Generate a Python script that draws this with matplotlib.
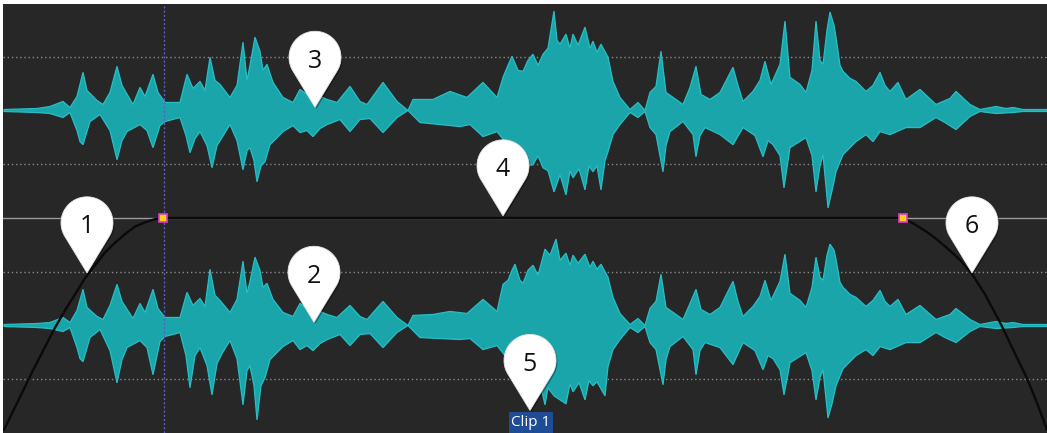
import numpy as np
import matplotlib
matplotlib.use("Agg")
import matplotlib.pyplot as plt
from matplotlib.patches import Polygon

# ---- data ----
# waveform envelopes: (position, level) with full scale = 107
FULL = 107.0

top_upper = [(4,1),(37,2),(50,4),(63,9),(70,3),(77,14),(83,38),(87,20),(97,10),(103,6),(110,18),(117,44),(122,25),(133,6),(140,23),(145,14),(153,36),(158,18),(165,8),(180,8),(187,36),(193,22),(200,29),(205,20),(210,53),(215,30),(220,26),(230,13),(237,25),(243,68),(247,30),(250,45),(255,73),(260,59),(263,40),(267,46),(273,28),(283,13),(293,8),(300,21),(313,12),(320,14),(327,11),(337,8),(350,24),(360,9),(367,6),(383,28),(397,9),(408,0),(413,11),(433,11),(450,19),(467,13),(483,28),(497,13),(503,33),(508,45),(512,54),(518,40),(523,39),(528,50),(533,56),(538,45),(543,56),(548,62),(554,99),(557,70),(560,66),(566,76),(570,62),(573,76),(578,65),(585,83),(590,62),(593,69),(597,58),(601,66),(608,53),(613,29),(620,13),(630,1),(638,8),(645,0),(650,18),(656,24),(661,59),(666,18),(676,11),(683,6),(690,23),(696,44),(701,16),(710,11),(720,18),(733,43),(738,25),(743,9),(753,19),(760,30),(765,49),(771,26),(780,46),(785,89),(790,33),(800,26),(806,18),(812,40),(816,89),(820,50),(823,46),(827,80),(830,98),(834,85),(836,73),(840,45),(843,39),(850,32),(856,29),(866,19),(873,25),(880,38),(885,25),(890,19),(898,28),(906,11),(920,21),(936,6),(950,12),(956,19),(970,6),(980,1),(996,4),(1006,2),(1013,3),(1023,1),(1047,1)]

top_lower = [(4,1),(37,2),(50,3),(63,7),(70,2),(77,20),(80,31),(83,34),(90,11),(100,4),(110,20),(117,49),(122,30),(127,21),(140,14),(147,20),(153,37),(160,15),(165,11),(180,7),(186,25),(190,42),(195,28),(200,21),(207,35),(212,57),(217,35),(222,27),(230,14),(237,30),(243,59),(247,40),(250,37),(254,50),(257,71),(261,55),(265,51),(270,34),(283,21),(293,15),(300,22),(307,20),(313,26),(320,18),(327,14),(340,9),(350,21),(360,9),(370,8),(383,22),(397,7),(408,0),(420,12),(440,14),(460,16),(470,14),(483,26),(497,21),(505,31),(515,37),(523,41),(528,55),(533,54),(538,45),(543,57),(548,60),(554,81),(560,64),(566,84),(570,60),(573,67),(579,58),(585,79),(589,55),(593,61),(597,55),(601,79),(605,50),(608,41),(613,24),(620,14),(630,2),(638,7),(645,1),(650,17),(656,24),(663,61),(666,35),(670,21),(683,11),(693,24),(696,46),(700,25),(705,17),(720,24),(733,34),(743,17),(755,25),(763,46),(768,30),(773,34),(780,45),(784,77),(788,50),(790,37),(806,27),(812,45),(816,81),(820,55),(823,44),(828,97),(832,80),(836,61),(843,44),(856,31),(866,24),(873,31),(880,21),(890,24),(906,17),(920,17),(936,7),(945,12),(956,19),(970,6),(980,1),(996,3),(1013,2),(1023,1),(1047,1)]

bot_upper = [(4,1),(37,2),(50,3),(63,8),(70,3),(77,15),(83,36),(87,18),(97,9),(103,6),(110,20),(117,41),(122,24),(133,7),(140,22),(145,13),(153,36),(158,17),(165,8),(180,8),(187,33),(193,20),(200,27),(205,19),(210,56),(215,30),(220,25),(230,13),(237,26),(243,64),(247,32),(250,44),(255,68),(260,55),(263,38),(267,42),(273,26),(283,13),(293,9),(300,22),(313,13),(320,14),(327,11),(337,8),(350,20),(360,9),(367,6),(383,24),(397,8),(408,0),(413,10),(433,11),(450,14),(467,12),(483,26),(497,14),(503,41),(508,45),(512,55),(515,61),(520,45),(523,42),(528,55),(533,60),(538,50),(545,76),(550,70),(556,86),(560,65),(566,72),(570,60),(573,70),(578,62),(585,71),(590,58),(593,64),(597,56),(601,61),(608,48),(613,28),(620,12),(630,1),(638,7),(645,0),(650,17),(656,24),(661,51),(666,18),(676,11),(683,6),(690,22),(696,36),(701,16),(710,11),(720,18),(733,44),(738,24),(743,9),(753,19),(760,29),(765,45),(771,25),(780,44),(785,71),(790,32),(800,25),(806,18),(812,38),(816,68),(820,48),(823,45),(827,70),(830,81),(834,75),(836,66),(840,43),(843,38),(850,31),(856,28),(866,19),(873,25),(880,35),(885,24),(890,19),(898,26),(906,11),(920,20),(936,6),(950,11),(956,17),(970,6),(980,1),(996,4),(1006,2),(1013,3),(1023,1),(1047,1)]

bot_lower = [(4,1),(37,2),(50,3),(63,6),(70,2),(77,22),(80,33),(83,36),(90,12),(100,4),(110,25),(117,57),(122,34),(127,22),(140,15),(147,22),(153,49),(160,16),(165,11),(180,7),(186,30),(190,62),(195,30),(200,22),(207,40),(212,69),(217,38),(222,28),(230,15),(237,33),(243,79),(247,45),(250,40),(254,60),(257,94),(261,60),(265,52),(270,34),(283,21),(293,15),(300,24),(307,20),(313,25),(320,18),(327,14),(340,9),(350,20),(360,9),(370,8),(383,22),(397,7),(408,0),(420,12),(440,13),(460,14),(470,13),(483,24),(497,20),(505,30),(515,38),(523,42),(528,58),(533,56),(538,48),(545,79),(548,62),(554,70),(560,74),(566,78),(570,58),(573,66),(579,57),(585,74),(589,55),(593,60),(597,56),(605,70),(608,41),(613,24),(620,14),(630,2),(638,7),(645,1),(650,17),(656,24),(663,59),(666,34),(670,21),(683,11),(693,24),(696,49),(700,25),(705,17),(720,22),(733,39),(743,17),(755,25),(763,44),(768,30),(773,33),(780,44),(784,69),(788,48),(790,37),(806,27),(812,45),(816,74),(820,52),(823,44),(828,92),(832,78),(836,60),(843,43),(856,30),(866,24),(873,30),(880,21),(890,24),(906,17),(920,17),(936,7),(945,12),(956,17),(970,6),(980,1),(996,3),(1013,2),(1023,1),(1047,1)]

# volume envelope (fade in / sustain / fade out)
fade_in_x = [4, 15, 25, 35, 45, 55, 65, 75, 85, 95, 105, 115, 125, 135, 145, 155, 163]
fade_in_y = [0.03, 0.24, 0.43, 0.62, 0.80, 0.98, 1.14, 1.29, 1.44, 1.56, 1.68, 1.77, 1.85, 1.92, 1.96, 1.99, 2.0]
fade_out_x = [903, 915, 927, 937, 947, 960, 972, 985, 1000, 1017, 1027, 1037, 1047]
fade_out_y = [2.0, 1.94, 1.87, 1.80, 1.72, 1.61, 1.48, 1.29, 1.03, 0.70, 0.51, 0.28, 0.03]
handle_x = [163, 903]

# callouts: label, tip position
callout_labels = ["1", "2", "3", "4", "5", "6"]
callout_x = [87, 314, 315, 503, 530, 972]
callout_y = [1.49, 1.03, 3.03, 2.02, 0.21, 1.49]

cursor_x = 164
clip_label = "Clip 1"

# ---- figure ----
PX = 107.5  # pixels per track unit
fig = plt.figure(figsize=(10.47, 4.33), dpi=100, facecolor="white")
ax = fig.add_axes([3 / 1047, 0, 1 - 3 / 1047, 429 / 433])
ax.set_facecolor("#272727")
ax.set_xlim(3, 1047)
ax.set_ylim(0, 429 / PX)
for s in ax.spines.values():
    s.set_visible(False)
ax.set_xticks([])
ax.set_yticks([])

# grid
for g in [0.5, 1.5, 2.5, 3.5]:
    ax.axhline(g, color="#8a8a8a", lw=1, linestyle=(0, (1, 2)), zorder=1)
ax.axhline(2.0, color="#9a9a9a", lw=1, zorder=1)


def draw_channel(center, upper, lower):
    up = np.array(upper, dtype=float)
    lo = np.array(lower, dtype=float)
    xs = np.concatenate([up[:, 0], lo[::-1, 0]])
    ys = np.concatenate([center + up[:, 1] / FULL, center - lo[::-1, 1] / FULL])
    ax.fill(xs, ys, facecolor="#1aa5ab", edgecolor="#27bfc6", lw=0.9, zorder=2)


draw_channel(3.0, top_upper, top_lower)
draw_channel(1.0, bot_upper, bot_lower)

# play cursor
ax.axvline(cursor_x, color="#5c5cc4", lw=1, linestyle=(0, (1.5, 1.5)), zorder=3)

# envelope
env_x = fade_in_x + fade_out_x
env_y = fade_in_y + fade_out_y
ax.plot(env_x, env_y, color="#0a0a0a", lw=1.7, zorder=4, solid_capstyle="round")
ax.plot(handle_x, [2.0, 2.0], linestyle="none", marker="s", markersize=6,
        markerfacecolor="#ffd21a", markeredgecolor="#e03cc8", markeredgewidth=1.2, zorder=5)

# callout pins
R, D = 26.0, 50.0
phi = np.arccos(R / D)
ang = np.linspace(-np.pi / 2 + phi, 3 * np.pi / 2 - phi, 80)
for lab, tx, ty in zip(callout_labels, callout_x, callout_y):
    cy = ty + D / PX
    vx = np.concatenate([[tx], tx + R * np.cos(ang)])
    vy = np.concatenate([[ty], cy + R * np.sin(ang) / PX])
    shadow = Polygon(np.column_stack([vx + 1.5, vy - 1.5 / PX]), closed=True,
                     facecolor="black", edgecolor="none", alpha=0.35, zorder=6)
    ax.add_patch(shadow)
    pin = Polygon(np.column_stack([vx, vy]), closed=True,
                  facecolor="white", edgecolor="#e6e6e6", lw=0.6, zorder=7)
    ax.add_patch(pin)
    ax.text(tx, cy - 4 / PX, lab, ha="center", va="center", fontsize=18,
            family="Open Sans", color="#111111", zorder=8)

# clip label
ax.text(531, 0.10, clip_label, ha="center", va="center", fontsize=11, family="Open Sans",
        color="white", zorder=8,
        bbox=dict(boxstyle="square,pad=0.18", facecolor="#1e4c96", edgecolor="none"))

fig.savefig("out.png", dpi=100, facecolor="white")
